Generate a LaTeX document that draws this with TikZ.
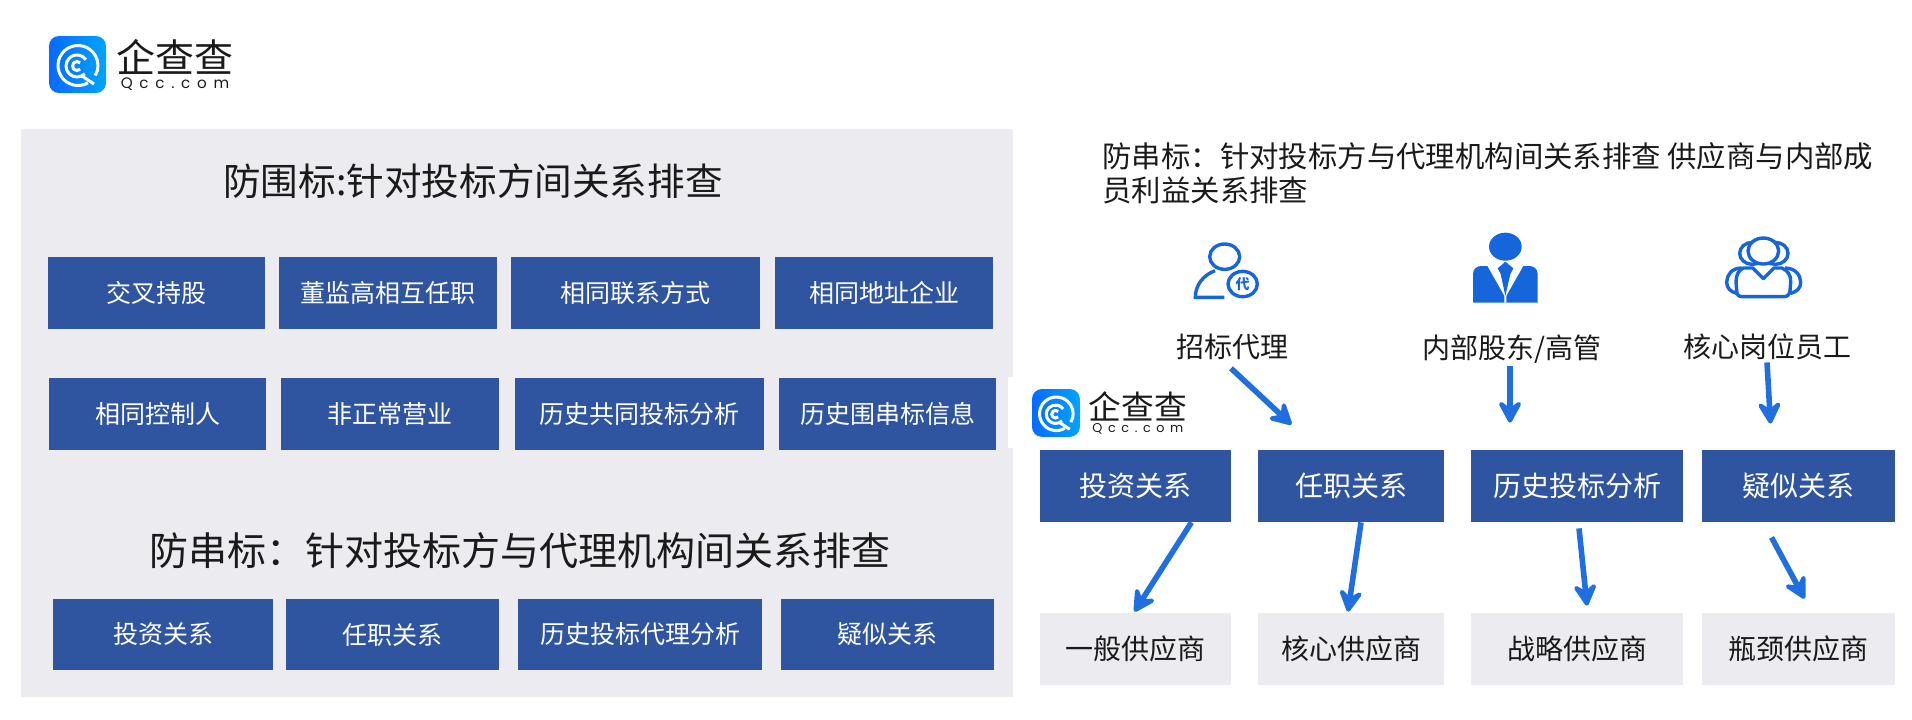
\documentclass[tikz,border=0pt]{standalone}
\usepackage{fontspec}
\setmainfont{Noto Sans CJK SC}
\newfontfamily\logolat[LetterSpace=44]{Poppins}
\usetikzlibrary{arrows.meta}
\definecolor{boxblue}{HTML}{2F54A0}
\definecolor{panelgrey}{HTML}{EBEBF0}
\definecolor{arrowblue}{HTML}{1F6FE0}
\definecolor{iconblue}{HTML}{1565DB}
\definecolor{inkc}{HTML}{1A1A1A}
\tikzset{
  bluebox/.style={fill=boxblue,text=white,inner sep=0pt,font=\fontsize{12.5}{15}\selectfont},
  bigbox/.style={bluebox,font=\fontsize{14}{17}\selectfont},
  greybox/.style={fill=panelgrey,text=inkc,inner sep=0pt,font=\fontsize{14}{17}\selectfont},
  titletext/.style={text=inkc,inner sep=0pt,font=\fontsize{19.5}{24}\selectfont},
  bodytext/.style={text=inkc,inner sep=0pt,font=\fontsize{14}{17}\selectfont},
  flow/.style={draw=arrowblue,line width=2.8pt,-{Stealth[length=14pt,width=15pt,inset=5.5pt,round]}},
  iconline/.style={draw=iconblue,line width=1.7pt},
}
\newcommand{\rbox}[7]{\node[#1,minimum width={(#5-#3)*0.5pt},minimum height={(#6-#4)*0.5pt}] (#2) at ({(#3+#5)/2},{(#4+#6)/2}) {#7};}
\newcommand{\qcclogo}[3]{%
  \begin{scope}[shift={(#1,#2)},scale=#3,transform shape]
    \shade[rounded corners=5pt,
           left color={rgb,255:red,8;green,106;blue,255},right color={rgb,255:red,0;green,164;blue,255}]
      (0,0) rectangle (57,57);
    \draw[white,line width=1.5pt] (29,29.5)++(60:20) arc[start angle=60,end angle=390,radius=20];
    \draw[white,line width=1.5pt] (33,40) -- (45,48);
    \draw[white,line width=1.5pt] (28,30)++(45:11) arc[start angle=45,end angle=325,radius=11];
    \draw[white,line width=1.5pt] (28,30)++(45:4.5) arc[start angle=45,end angle=315,radius=4.5];
    \node[inner sep=0pt,text=inkc,font=\fontsize{19.5}{20}\selectfont] at (126,21) {企查查};
    \node[inner sep=0pt,text=inkc,font=\logolat\fontsize{7.6}{8}\selectfont] at (126,48) {Qcc.com};
  \end{scope}}
\begin{document}
\begin{tikzpicture}[x=0.5pt,y=-0.5pt]
\useasboundingbox (0,0) rectangle (1912,719);
\fill[panelgrey] (21,129) rectangle (1013,697);
\fill[white] (1008,377) rectangle (1040,448);

\qcclogo{49}{36}{1}
\qcclogo{1032}{389}{0.84}

\node[titletext,font=\fontsize{18.8}{24}\selectfont] (t1) at (473,181) {防围标:针对投标方间关系排查};
\node[titletext] (t2) at (520,551) {防串标：针对投标方与代理机构间关系排查};
\node[bodytext,font=\fontsize{14.7}{17}\selectfont,anchor=west,align=left] (t3) at (1102,173) {防串标：针对投标方与代理机构间关系排查 供应商与内部成\\员利益关系排查};

\rbox{bluebox}{a1}{48}{257}{265}{329}{交叉持股}
\rbox{bluebox}{a2}{279}{257}{497}{329}{董监高相互任职}
\rbox{bluebox}{a3}{511}{257}{760}{329}{相同联系方式}
\rbox{bluebox}{a4}{775}{257}{993}{329}{相同地址企业}
\rbox{bluebox}{b1}{49}{378}{266}{450}{相同控制人}
\rbox{bluebox}{b2}{281}{378}{499}{450}{非正常营业}
\rbox{bluebox}{b3}{515}{378}{764}{450}{历史共同投标分析}
\rbox{bluebox}{b4}{779}{378}{996}{450}{历史围串标信息}
\rbox{bluebox}{c1}{53}{599}{273}{670}{投资关系}
\rbox{bluebox}{c2}{286}{599}{499}{670}{任职关系}
\rbox{bluebox}{c3}{518}{599}{762}{670}{历史投标代理分析}
\rbox{bluebox}{c4}{781}{599}{994}{670}{疑似关系}

\rbox{bigbox}{d1}{1040}{450}{1231}{522}{投资关系}
\rbox{bigbox}{d2}{1258}{450}{1444}{522}{任职关系}
\rbox{bigbox}{d3}{1471}{450}{1683}{522}{历史投标分析}
\rbox{bigbox}{d4}{1702}{450}{1895}{522}{疑似关系}
\rbox{greybox}{e1}{1040}{613}{1231}{685}{一般供应商}
\rbox{greybox}{e2}{1258}{613}{1444}{685}{核心供应商}
\rbox{greybox}{e3}{1471}{613}{1683}{685}{战略供应商}
\rbox{greybox}{e4}{1702}{613}{1895}{685}{瓶颈供应商}

\node[bodytext] (p1) at (1232,347) {招标代理};
\node[bodytext] (p2) at (1512,349) {内部股东/高管};
\node[bodytext] (p3) at (1767,347) {核心岗位员工};

% connectors
\draw[flow] ([xshift=-0.5pt,yshift=-4pt]p1.south) -- ([xshift=-76.5pt,yshift=12.5pt]d2.north east);
\draw[flow] ([xshift=-1pt,yshift=-1pt]p2.south) -- ([xshift=-33.5pt,yshift=13.5pt]d3.north);
\draw[flow] ([xshift=0pt,yshift=-1pt]p3.south) -- ([xshift=-14pt,yshift=13pt]d4.north);
\draw[flow] ([xshift=-20pt]d1.south east) -- ([xshift=-0.5pt,yshift=0.5pt]e1.north);
\draw[flow] ([xshift=5pt]d2.south) -- ([xshift=-1.5pt,yshift=0.5pt]e2.north);
\draw[flow] ([xshift=1pt,yshift=-3pt]d3.south) -- ([xshift=5pt,yshift=3.5pt]e3.north);
\draw[flow] ([xshift=-13.5pt,yshift=-7.5pt]d4.south) -- ([xshift=3pt,yshift=7pt]e4.north);

% icon 1: agent
\begin{scope}[shift={(1180,220)},x=0.1667pt,y=-0.1667pt]
  \draw[iconline] (134,110) ellipse[x radius=45,y radius=38];
  \draw[iconline] (133,232) -- (46,232) .. controls (46,195) and (70,165) .. (105,152);
  \draw[iconline] (188,192) ellipse[x radius=44,y radius=38];
  \node[inner sep=0pt,text=iconblue,font=\bfseries\fontsize{7}{8}\selectfont] (dai) at (188,192) {代};
\end{scope}

% icon 2: manager
\begin{scope}[shift={(1450,220)},x=0.1667pt,y=-0.1667pt]
  \fill[iconblue] (166,80) ellipse[x radius=49,y radius=42];
  \fill[iconblue] (69,248) -- (69,162) .. controls (69,145) and (82,138) .. (95,138) -- (112,138) -- (163,228) -- (163,248) -- (169,248) -- (169,228) -- (220,138) -- (237,138) .. controls (250,138) and (263,145) .. (263,162) -- (263,248) -- cycle;
  \fill[iconblue] (166,125) -- (190,145) -- (181,162) -- (166,228) -- (152,162) -- (143,145) -- cycle;
\end{scope}

% icon 3: staff
\begin{scope}[shift={(1700,220)},x=0.1667pt,y=-0.1667pt]
  \draw[iconline] (157,100) ellipse[x radius=38,y radius=33];
  \draw[iconline] (226,100) ellipse[x radius=38,y radius=33];
  \draw[iconline,fill=white] (190,93) ellipse[x radius=46,y radius=39];
  \draw[iconline] (125,144) .. controls (95,144) and (80,165) .. (80,187) .. controls (80,205) and (92,215) .. (110,220);
  \draw[iconline] (255,144) .. controls (285,144) and (302,165) .. (302,187) .. controls (302,205) and (290,215) .. (272,220);
  \draw[iconline,fill=white,line join=round] (130,144) -- (158,144) -- (190,176) -- (222,144) -- (245,144) .. controls (262,150) and (273,165) .. (272,185) -- (270,212) .. controls (268,225) and (262,230) .. (250,230) -- (128,230) .. controls (116,230) and (110,225) .. (110,212) -- (108,185) .. controls (108,165) and (116,150) .. (130,144) -- cycle;
\end{scope}
\end{tikzpicture}
\end{document}
